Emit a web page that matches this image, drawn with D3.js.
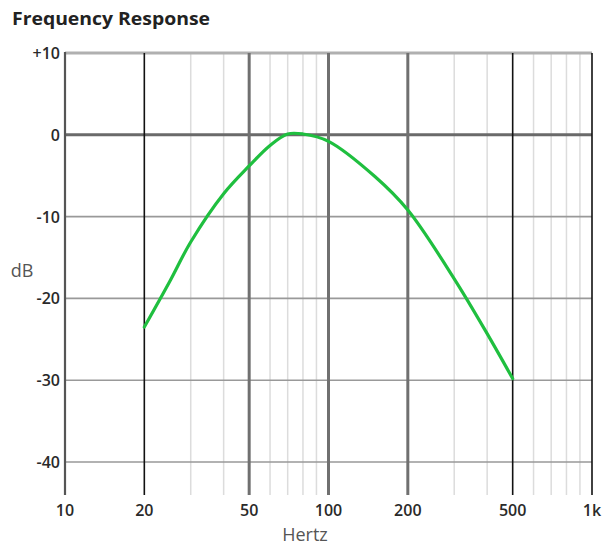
<!DOCTYPE html>
<html>
<head>
<meta charset="utf-8">
<script src="https://cdn.jsdelivr.net/npm/d3@7"></script>
<style>
  body { margin: 0; background: #fff; }
  text { font-family: "Open Sans", "DejaVu Sans", sans-serif; }
</style>
</head>
<body>
<div id="chart"></div>
<script>
// data
var freqs = [20, 25, 30, 40, 50, 60, 70, 80, 100, 150, 200, 300, 400, 500];
var gains = [-23.5, -17.9, -13.1, -7.2, -3.8, -1.3, 0.1, 0.1, -0.8, -5.1, -9.2, -17.6, -24.3, -29.8];
var xTicks = [10, 20, 50, 100, 200, 500, 1000];
var xTickLabels = ["10", "20", "50", "100", "200", "500", "1k"];
var yTicks = [10, 0, -10, -20, -30, -40];
var yTickLabels = ["+10", "0", "-10", "-20", "-30", "-40"];
var majorGray = [50, 100, 200];
var majorBlack = [20, 500, 1000];
var minorFreqs = [30, 40, 60, 70, 80, 90, 300, 400, 600, 700, 800, 900];

var width = 603, height = 548;
var plotLeft = 65, plotRight = 592, plotTop = 53, plotBottom = 495;

var svg = d3.select("#chart").append("svg")
    .attr("width", width)
    .attr("height", height);

var x = d3.scaleLog().domain([10, 1000]).range([plotLeft, plotRight]);
var y = d3.scaleLinear().domain([10, -40]).range([plotTop, plotTop + 409]);

// minor vertical grid
svg.append("g").selectAll("line").data(minorFreqs).enter().append("line")
    .attr("x1", function (d) { return x(d); })
    .attr("x2", function (d) { return x(d); })
    .attr("y1", plotTop).attr("y2", plotBottom)
    .attr("stroke", "#dcdcdc").attr("stroke-width", 1.5);

// horizontal grid
svg.append("g").selectAll("line").data(yTicks).enter().append("line")
    .attr("x1", plotLeft).attr("x2", plotRight)
    .attr("y1", function (d) { return y(d); })
    .attr("y2", function (d) { return y(d); })
    .attr("stroke", function (d) { return d == 10 ? "#b0b0b0" : (d == 0 ? "#6a6a6a" : "#999"); })
    .attr("stroke-width", function (d) { return (d == 10 || d == 0) ? 3 : 1.6; });

// thick gray verticals
svg.append("g").selectAll("line").data(majorGray).enter().append("line")
    .attr("x1", function (d) { return x(d); })
    .attr("x2", function (d) { return x(d); })
    .attr("y1", plotTop).attr("y2", plotBottom)
    .attr("stroke", "#707070").attr("stroke-width", 3);

// thin black verticals
svg.append("g").selectAll("line").data(majorBlack).enter().append("line")
    .attr("x1", function (d) { return x(d); })
    .attr("x2", function (d) { return x(d); })
    .attr("y1", plotTop).attr("y2", plotBottom)
    .attr("stroke", "#111").attr("stroke-width", 1.6);

// left border at 10 Hz
svg.append("line")
    .attr("x1", x(10)).attr("x2", x(10))
    .attr("y1", plotTop - 1).attr("y2", plotBottom)
    .attr("stroke", "#555").attr("stroke-width", 2.2);

// response curve
var line = d3.line()
    .x(function (d, i) { return x(freqs[i]); })
    .y(function (d) { return y(d); })
    .curve(d3.curveCatmullRom.alpha(0.5));

svg.append("path")
    .datum(gains)
    .attr("d", line)
    .attr("fill", "none")
    .attr("stroke", "#1fbf3f")
    .attr("stroke-width", 3.2)
    .attr("stroke-linecap", "round");

// tick labels
svg.append("g").selectAll("text").data(yTicks).enter().append("text")
    .attr("x", plotLeft - 5)
    .attr("y", function (d) { return y(d) + 6; })
    .attr("text-anchor", "end")
    .attr("font-size", 16)
    .attr("font-weight", 600)
    .attr("fill", "#2a2a2a")
    .text(function (d, i) { return yTickLabels[i]; });

svg.append("g").selectAll("text").data(xTicks).enter().append("text")
    .attr("x", function (d) { return x(d); })
    .attr("y", plotBottom + 21)
    .attr("text-anchor", "middle")
    .attr("font-size", 16)
    .attr("font-weight", 600)
    .attr("fill", "#2a2a2a")
    .text(function (d, i) { return xTickLabels[i]; });

// axis titles
svg.append("text")
    .attr("x", 305).attr("y", 541)
    .attr("text-anchor", "middle")
    .attr("font-size", 18)
    .attr("fill", "#555")
    .text("Hertz");

svg.append("text")
    .attr("x", 22).attr("y", 277)
    .attr("text-anchor", "middle")
    .attr("font-size", 18)
    .attr("fill", "#555")
    .text("dB");

svg.append("text")
    .attr("x", 12).attr("y", 25)
    .attr("font-size", 18)
    .attr("font-weight", "bold")
    .attr("fill", "#222")
    .attr("textLength", 198)
    .attr("lengthAdjust", "spacingAndGlyphs")
    .text("Frequency Response");
</script>
</body>
</html>
